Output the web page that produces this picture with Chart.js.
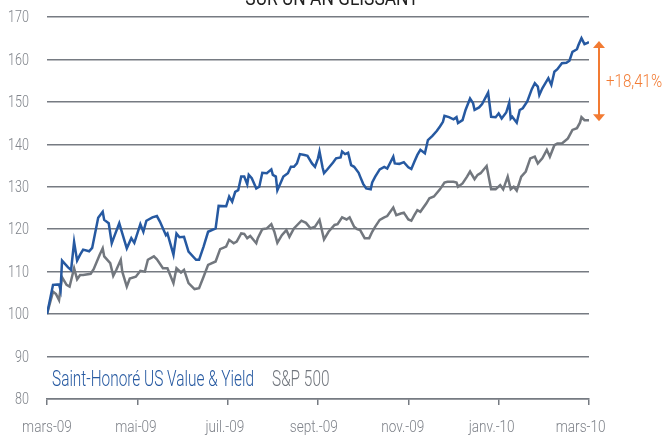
<!DOCTYPE html>
<html>
<head>
<meta charset="utf-8">
<script src="https://cdn.jsdelivr.net/npm/chart.js@4.4.1/dist/chart.umd.min.js"></script>
<style>
  body { margin: 0; background: #fff; }
  #wrap { width: 665px; height: 436px; }
</style>
</head>
<body>
<div id="wrap"><canvas id="chart"></canvas></div>
<script>
// données (jours depuis le 1er mars 2009, base 100)
const titleText = 'SUR UN AN GLISSANT';
const fundLabel = 'Saint-Honoré US Value & Yield';
const indexLabel = 'S&P 500';
const gapLabel = '+18,41%';
const xTickLabels = ['mars-09', 'mai-09', 'juil.-09', 'sept.-09', 'nov.-09', 'janv.-10', 'mars-10'];
const xTickDays = [0, 60, 120, 180, 240, 300, 360];

const fundDays = [0, 4, 8, 9, 10, 14, 16, 18, 20, 22, 24, 28, 30, 34, 37, 38, 41, 43, 45, 48, 50, 53, 56, 58,
  62, 64, 66, 70, 73, 75, 79, 80, 84, 86, 88, 91, 94, 99, 101, 104, 107, 112, 114, 119, 121, 123, 125, 127,
  129, 131, 133, 134, 136, 139, 141, 143, 146, 149, 150, 152, 153, 155, 157, 160, 162, 164, 166, 168, 171,
  173, 176, 178, 180, 181, 183, 184, 186, 190, 192, 195, 196, 198, 200, 202, 204, 207, 208, 210, 212, 215,
  216, 218, 221, 224, 226, 230, 231, 234, 237, 240, 242, 244, 246, 248, 251, 253, 256, 259, 261, 263, 264,
  267, 270, 272, 273, 276, 278, 281, 283, 284, 287, 289, 293, 295, 298, 300, 302, 305, 307, 308, 309, 312,
  314, 316, 319, 322, 324, 326, 327, 329, 333, 335, 337, 339, 342, 345, 347, 349, 352, 353, 355, 357, 359, 360];
const fundValues = [100, 106.9, 107, 105.7, 112.6, 111, 110.4, 117, 112.6, 114, 115.2, 114.8, 115.6, 122.7,
  124.1, 122.2, 121.4, 116.7, 118.6, 121.4, 119, 115.5, 117.9, 116.8, 121.2, 119.4, 122, 122.8, 123.1, 121.8,
  118.6, 119, 114, 119, 118.1, 118.2, 114.7, 112.8, 112.8, 115.9, 119.4, 120.2, 125.5, 125.4, 127.7, 126.5,
  128.8, 129.2, 132.4, 132.4, 130.6, 132.8, 132, 129.6, 130, 133.3, 133.2, 134.1, 132.8, 132.4, 129.2, 130.8,
  132.4, 133.2, 134.7, 134.7, 135.5, 137.7, 137.5, 137.3, 135.5, 134.7, 136.7, 138.3, 134.6, 133.2, 134,
  135.7, 136.7, 136.9, 138.3, 137.7, 138, 135.1, 134.7, 133.3, 132.4, 130.7, 129.6, 129.4, 131, 132.4, 134.1,
  134.7, 134.3, 137.1, 135.5, 135.4, 135.8, 134.6, 134.2, 135.9, 137.5, 138.7, 137.9, 141, 142, 143.2, 144.2,
  145.3, 146.7, 146.4, 145.9, 146.4, 145, 145.7, 148.1, 150.8, 149.7, 148.1, 148.7, 149.5, 152.2, 146.5,
  146.4, 147.3, 146.1, 147.5, 149.8, 146.1, 146.5, 145.1, 148.1, 148.5, 150.1, 153, 154.4, 153.6, 151.6,
  153.2, 155.6, 154, 157.1, 157.7, 159.1, 159.2, 159.7, 161.8, 162.4, 163.4, 165, 163.6, 163.9, 164.1];

const indexDays = [0, 4, 6, 8, 10, 13, 15, 18, 20, 22, 24, 29, 31, 35, 37, 38, 42, 44, 46, 49, 50, 53, 55, 59,
  62, 65, 67, 71, 73, 77, 80, 84, 86, 89, 91, 94, 98, 101, 104, 107, 112, 115, 119, 121, 124, 126, 129, 131,
  133, 135, 139, 140, 143, 146, 149, 151, 153, 156, 159, 161, 164, 169, 172, 175, 178, 181, 184, 187, 191,
  193, 196, 199, 201, 204, 206, 208, 211, 214, 216, 218, 221, 224, 226, 230, 232, 235, 237, 240, 242, 244,
  246, 248, 252, 254, 257, 261, 264, 266, 270, 272, 273, 276, 279, 281, 284, 286, 288, 292, 295, 298, 301,
  303, 306, 308, 310, 312, 315, 318, 321, 324, 326, 329, 332, 334, 337, 339, 342, 344, 346, 349, 352, 354,
  355, 357, 360];
const indexValues = [100, 105.3, 104.7, 103.3, 108.7, 106.9, 106.5, 110.8, 108.2, 109.2, 109.2, 109.5, 110.6,
  114, 115.5, 113.6, 112, 109, 110.4, 112.8, 110, 106.5, 108.4, 108.8, 110.2, 110, 112.8, 113.6, 112.9, 110.8,
  110.8, 107.3, 110.8, 109.8, 110.4, 107.3, 105.9, 106.1, 108.8, 111.6, 112.4, 115.3, 115.9, 117.5, 116.7,
  117.1, 119, 118.9, 117.9, 118.4, 116.7, 117.9, 120, 120.2, 121.2, 119.4, 116.8, 118.6, 119.8, 118.2, 120.2,
  122, 121.5, 120.2, 120.6, 122.2, 117.6, 119.4, 121, 121.2, 122.8, 122.3, 122.8, 120.6, 120, 119.8, 117.9,
  117.9, 119.4, 120.6, 122.2, 122.8, 123.1, 125.1, 123.3, 123.7, 123.9, 122.3, 122, 123.3, 124.5, 124.1,
  126.1, 127.3, 127.7, 129.4, 131, 131.2, 131.2, 131, 130, 130.8, 132.4, 133.6, 131.8, 132.8, 133.2, 134.9,
  129.4, 129.4, 130.4, 129.4, 132.4, 129.4, 130, 129.1, 132.4, 133.6, 136.7, 137.1, 135.5, 136.7, 138.7,
  137.1, 139.8, 140.2, 140.2, 140.8, 141.4, 143.4, 143.8, 145.1, 146.4, 145.7, 145.7];

const yTicks = [80, 90, 100, 110, 120, 130, 140, 150, 160, 170];

const gridColor = '#767b82';
const fundColor = '#2659a1';
const indexColor = '#72777e';
const orange = '#f27b33';

// texte condensé : on écrase horizontalement
function drawText(ctx, text, x, y, size, color, align, sx, baseline, weight) {
  ctx.save();
  ctx.translate(x, y);
  ctx.scale(sx, 1);
  ctx.font = (weight || '300') + ' ' + size + 'px Roboto, "Liberation Sans", sans-serif';
  ctx.textAlign = align;
  ctx.textBaseline = baseline || 'middle';
  ctx.fillStyle = color;
  ctx.fillText(text, 0, 0);
  ctx.restore();
}

const textPlugin = {
  id: 'texts',
  afterDraw(chart) {
    const ctx = chart.ctx;
    const xs = chart.scales.x;
    const ys = chart.scales.y;

    // titre (coupé en haut)
    drawText(ctx, titleText, 332, 5, 20, '#222', 'center', 0.87, 'alphabetic', '400');

    // graduations
    ys.ticks.forEach(t => {
      drawText(ctx, String(t.value), 29, ys.getPixelForValue(t.value) + 1, 17, '#7f838a', 'right', 0.74);
    });
    xs.ticks.forEach((t, i) => {
      drawText(ctx, xTickLabels[i], xs.getPixelForValue(t.value) - i * 1.4, 428, 17, '#7f838a', 'center', 0.8);
    });

    // légende
    drawText(ctx, fundLabel, 52, 386, 22, fundColor, 'left', 0.7, 'alphabetic');
    drawText(ctx, indexLabel, 272, 386, 22, indexColor, 'left', 0.7, 'alphabetic');

    // flèche d'écart
    const yTop = ys.getPixelForValue(fundValues[fundValues.length - 1]);
    const yBot = ys.getPixelForValue(indexValues[indexValues.length - 1]);
    const ax = chart.chartArea.right + 10;
    ctx.save();
    ctx.strokeStyle = orange;
    ctx.fillStyle = orange;
    ctx.lineWidth = 2;
    ctx.beginPath();
    ctx.moveTo(ax, yTop + 4);
    ctx.lineTo(ax, yBot - 4);
    ctx.stroke();
    ctx.beginPath();
    ctx.moveTo(ax, yTop - 1);
    ctx.lineTo(ax - 6, yTop + 6);
    ctx.lineTo(ax + 6, yTop + 6);
    ctx.closePath();
    ctx.fill();
    ctx.beginPath();
    ctx.moveTo(ax, yBot + 1);
    ctx.lineTo(ax - 6, yBot - 6);
    ctx.lineTo(ax + 6, yBot - 6);
    ctx.closePath();
    ctx.fill();
    ctx.restore();
    drawText(ctx, gapLabel, ax + 7, (yTop + yBot) / 2 + 1, 18, orange, 'left', 0.84);
  }
};

new Chart(document.getElementById('chart'), {
  type: 'line',
  data: {
    datasets: [
      {
        label: fundLabel,
        data: fundDays.map((d, i) => ({ x: d, y: fundValues[i] })),
        borderColor: fundColor,
        borderWidth: 2.5,
        pointRadius: 0,
        tension: 0
      },
      {
        label: indexLabel,
        data: indexDays.map((d, i) => ({ x: d, y: indexValues[i] })),
        borderColor: indexColor,
        borderWidth: 2.5,
        pointRadius: 0,
        tension: 0
      }
    ]
  },
  options: {
    responsive: true,
    maintainAspectRatio: false,
    animation: false,
    layout: { padding: { top: 17, right: 76, left: 0, bottom: 0 } },
    plugins: {
      legend: { display: false },
      tooltip: { enabled: false }
    },
    scales: {
      x: {
        type: 'linear',
        min: 0,
        max: 360,
        afterBuildTicks: s => { s.ticks = xTickDays.map(v => ({ value: v })); },
        afterFit: s => { s.height = 37; },
        ticks: { display: false },
        grid: { drawOnChartArea: false, drawTicks: true, tickLength: 6, color: gridColor, lineWidth: 1.5 },
        border: { display: true, color: gridColor, width: 1.5 }
      },
      y: {
        min: 80,
        max: 170,
        afterBuildTicks: s => { s.ticks = yTicks.map(v => ({ value: v })); },
        afterFit: s => { s.width = 47; },
        ticks: { display: false },
        grid: { drawTicks: false, color: gridColor, lineWidth: 1.5 },
        border: { display: false }
      }
    }
  },
  plugins: [textPlugin]
});
</script>
</body>
</html>
